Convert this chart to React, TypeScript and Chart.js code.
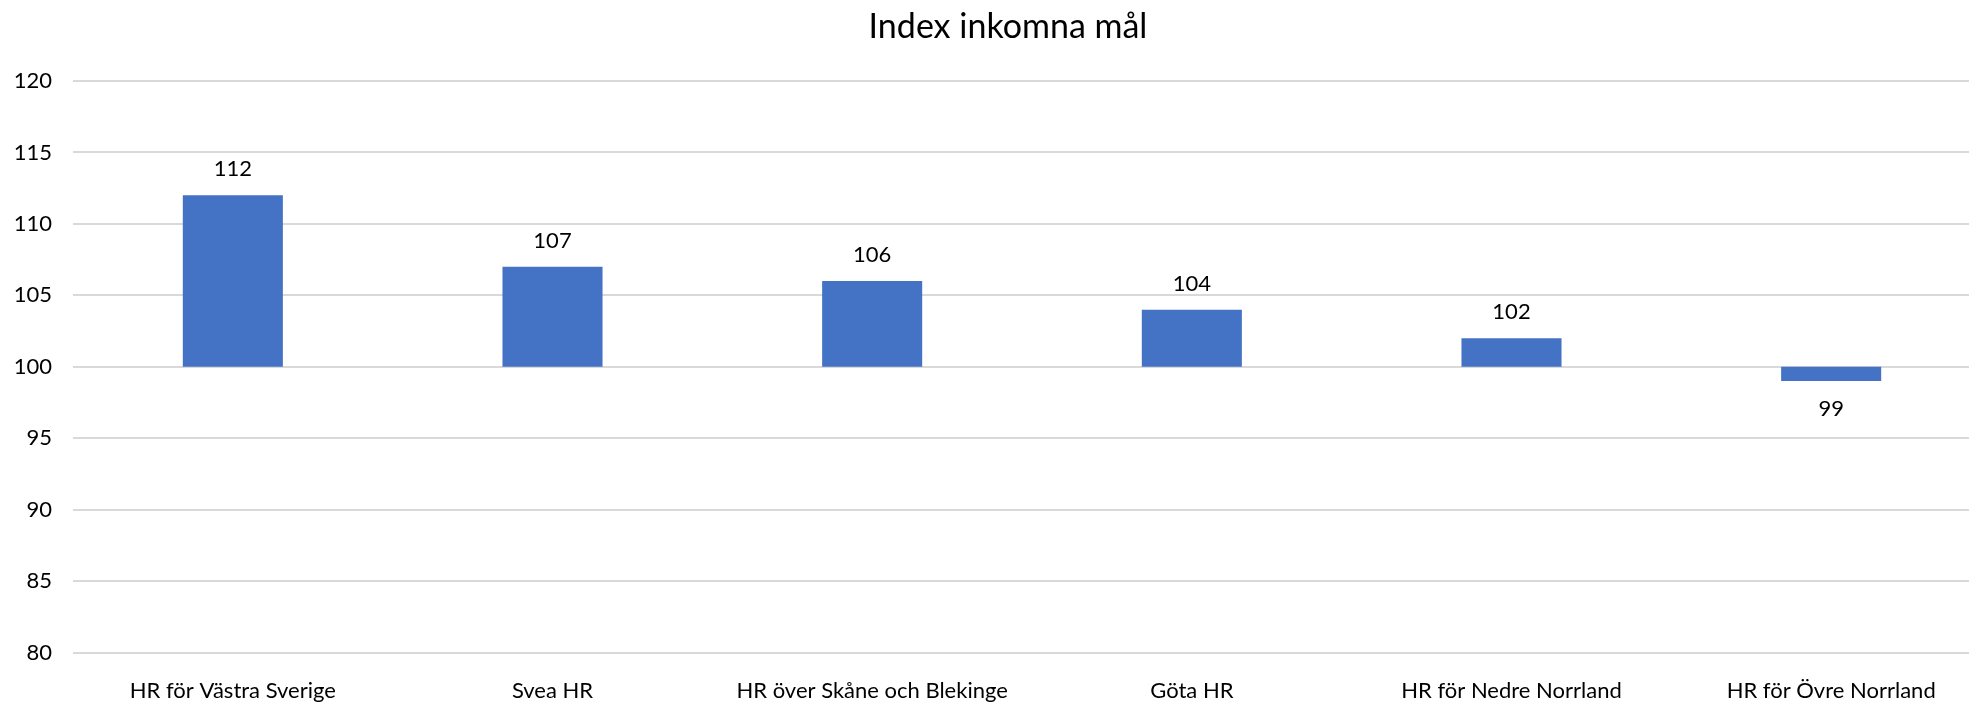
import React, { useEffect, useRef } from "react";
import { Chart, registerables } from "chart.js";

Chart.register(...registerables);

const categories = [
  "HR för Västra Sverige",
  "Svea HR",
  "HR över Skåne och Blekinge",
  "Göta HR",
  "HR för Nedre Norrland",
  "HR för Övre Norrland",
];
const baseValue = 100;
const indexValues = [112, 107, 106, 104, 102, 99];
const yMin = 80;
const yMax = 120;
const yStep = 5;
const titleText = "Index inkomna mål";

const FONT = "Lato, 'Noto Sans', sans-serif";

const titlePlugin = {
  id: "centredTitle",
  afterDraw(chart: any) {
    const ctx = chart.ctx;
    ctx.save();
    ctx.font = `34px ${FONT}`;
    ctx.fillStyle = "#000";
    ctx.textAlign = "center";
    ctx.textBaseline = "middle";
    ctx.fillText(titleText, 1008, 27);
    ctx.restore();
  },
};

const dataLabelPlugin = {
  id: "dataLabelPlugin",
  afterDatasetsDraw(chart: any) {
    const ctx = chart.ctx;
    const meta = chart.getDatasetMeta(0);
    const yScale = chart.scales.y;
    ctx.save();
    ctx.font = `22px ${FONT}`;
    ctx.fillStyle = "#000";
    ctx.textAlign = "center";
    ctx.textBaseline = "middle";
    meta.data.forEach((el: any, i: number) => {
      const v = indexValues[i];
      const py = yScale.getPixelForValue(v);
      const y = v >= baseValue ? py - 26 : py + 28;
      ctx.fillText(String(v), el.x, y);
    });
    ctx.restore();
  },
};

export default function App() {
  const canvasRef = useRef<HTMLCanvasElement | null>(null);

  useEffect(() => {
    document.body.style.margin = "0";
    document.body.style.overflow = "hidden";
    const canvas = canvasRef.current;
    if (!canvas) return;
    const chart = new Chart(canvas, {
      type: "bar",
      data: {
        labels: categories,
        datasets: [
          {
            data: indexValues.map((v) => [baseValue, v]) as any,
            backgroundColor: "#4472C4",
            borderWidth: 0,
            barPercentage: 0.313,
            categoryPercentage: 1,
          },
        ],
      },
      options: {
        animation: false,
        responsive: false,
        maintainAspectRatio: false,
        layout: { padding: { left: 0, right: 9, top: 81, bottom: 0 } },
        plugins: {
          legend: { display: false },
          tooltip: { enabled: false },
          title: { display: false },
        },
        scales: {
          x: {
            grid: { display: false, drawTicks: false },
            border: { display: false },
            ticks: {
              color: "#000",
              font: { family: FONT, size: 22 },
              padding: 25,
              maxRotation: 0,
              autoSkip: false,
            },
          },
          y: {
            min: yMin,
            max: yMax,
            grid: { color: "#D9D9D9", lineWidth: 2, drawTicks: false },
            border: { display: false },
            ticks: {
              stepSize: yStep,
              color: "#000",
              font: { family: FONT, size: 22 },
              padding: 21,
            },
            afterFit(scale: any) {
              scale.width = 73;
            },
          },
        },
      },
      plugins: [dataLabelPlugin, titlePlugin],
    });
    return () => chart.destroy();
  }, []);

  return (
    <div style={{ width: 1969, height: 704, overflow: "hidden", background: "#fff" }}>
      <canvas ref={canvasRef} width={2000} height={729} style={{ display: "block", width: 2000, height: 729 }} />
    </div>
  );
}
